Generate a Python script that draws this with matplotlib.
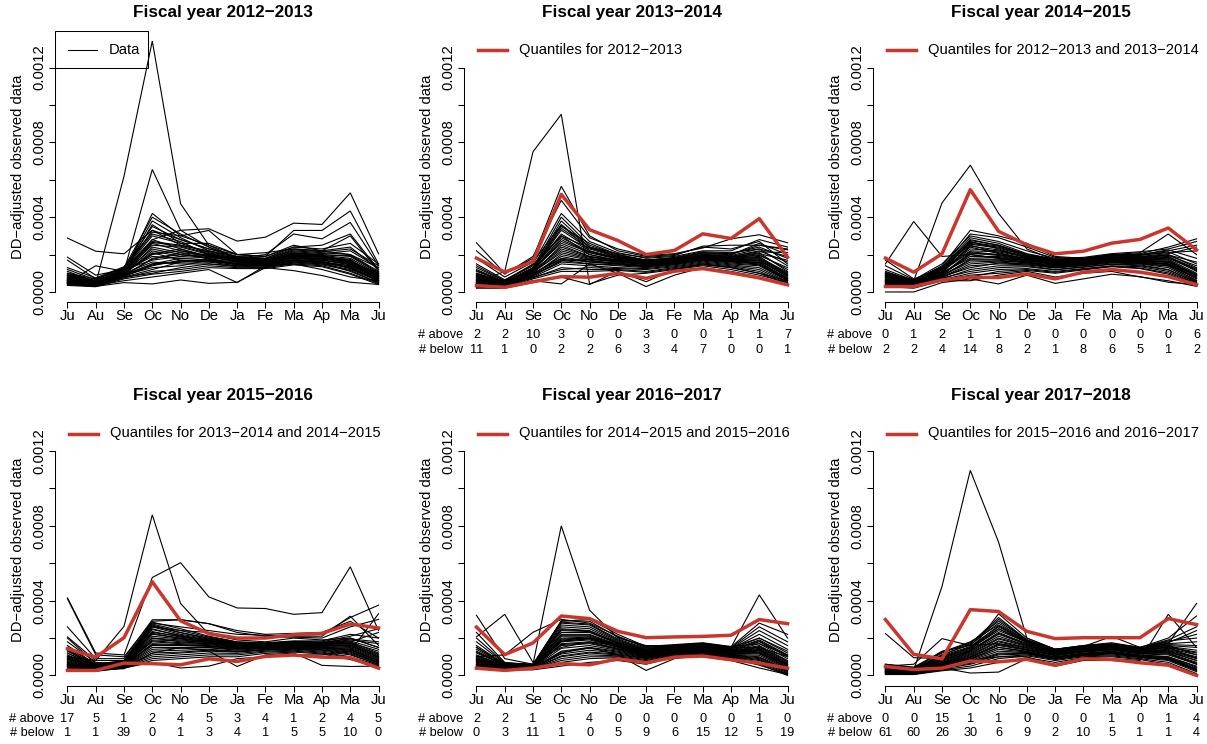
import matplotlib
matplotlib.use("Agg")
import matplotlib.pyplot as plt
from matplotlib.transforms import blended_transform_factory
from matplotlib.patches import Rectangle
from matplotlib.lines import Line2D

plt.rcParams['font.family'] = ['Liberation Sans', 'DejaVu Sans']

# ---------------------------------------------------------------- data
# monthly DD-adjusted values, in units of 1e-6, one row per series
months = ["Ju", "Au", "Se", "Oc", "No", "De", "Ja", "Fe", "Ma", "Ap", "Ma", "Ju"]
fiscal_years = ["2012\u22122013", "2013\u22122014", "2014\u22122015",
                "2015\u22122016", "2016\u22122017", "2017\u22122018"]
UNIT = 1e-6

fy2012 = [
    [60, 45, 619, 1342, 472, 250, 180, 160, 190, 170, 150, 90],
    [288, 218, 204, 330, 280, 230, 200, 210, 230, 220, 200, 130],
    [90, 60, 110, 655, 330, 240, 180, 170, 200, 190, 160, 100],
    [100, 60, 120, 280, 330, 338, 272, 293, 368, 361, 530, 204],
    [80, 55, 100, 420, 300, 329, 200, 190, 329, 329, 433, 150],
    [170, 70, 130, 400, 310, 240, 180, 200, 310, 284, 372, 140],
    [186, 90, 120, 380, 290, 220, 190, 180, 240, 250, 310, 120],
    [50, 140, 110, 360, 260, 260, 200, 190, 250, 220, 300, 110],
    [40, 30, 50, 43, 64, 46, 52, 130, 114, 88, 52, 40],
    [45, 35, 60, 80, 100, 120, 50, 140, 150, 120, 80, 60],
    [50, 40, 90, 150, 180, 170, 150, 140, 170, 160, 130, 70],
    [60, 45, 100, 200, 220, 190, 160, 150, 180, 170, 150, 80],
    [70, 50, 110, 250, 240, 200, 170, 160, 200, 190, 170, 90],
    [55, 35, 80, 120, 160, 160, 140, 130, 160, 150, 120, 60],
    [80, 55, 120, 300, 260, 210, 180, 170, 210, 200, 190, 100],
    [45, 30, 85, 180, 200, 180, 150, 150, 170, 160, 140, 70],
    [65, 50, 95, 220, 190, 200, 165, 155, 190, 180, 160, 85],
    [75, 60, 105, 280, 230, 190, 175, 165, 200, 195, 180, 95],
    [50, 40, 100, 160, 150, 150, 140, 145, 165, 155, 110, 50],
    [90, 50, 115, 330, 250, 220, 185, 175, 220, 210, 200, 110],
    [60, 40, 90, 130, 140, 170, 150, 140, 175, 165, 125, 65],
    [100, 70, 125, 350, 280, 230, 190, 180, 230, 220, 240, 120],
    [40, 30, 75, 110, 120, 140, 130, 130, 150, 140, 100, 45],
    [70, 45, 95, 240, 210, 175, 160, 150, 185, 175, 165, 80],
    [85, 55, 110, 190, 180, 185, 170, 160, 195, 185, 150, 90],
    [55, 45, 85, 140, 170, 165, 145, 140, 160, 150, 135, 55],
    [120, 65, 130, 310, 270, 200, 180, 170, 215, 205, 220, 130],
    [65, 40, 100, 210, 170, 160, 155, 150, 180, 170, 145, 75],
    [50, 35, 95, 260, 220, 195, 165, 160, 190, 185, 175, 60],
    [95, 60, 120, 170, 190, 205, 175, 165, 205, 195, 160, 100],
    [45, 38, 80, 100, 130, 150, 135, 135, 155, 145, 115, 50],
    [75, 50, 105, 230, 200, 185, 165, 155, 195, 190, 170, 85],
    [110, 55, 115, 270, 250, 215, 185, 175, 225, 215, 230, 140],
    [60, 42, 90, 150, 160, 175, 150, 145, 170, 160, 140, 70],
    [35, 28, 70, 95, 110, 130, 125, 125, 145, 135, 95, 40],
    [130, 75, 135, 320, 300, 250, 200, 190, 240, 230, 260, 150],
    [58, 38, 92, 175, 210, 195, 160, 150, 185, 178, 155, 72],
    [68, 48, 102, 205, 230, 185, 168, 158, 198, 188, 168, 88],
    [48, 33, 82, 145, 165, 172, 148, 142, 168, 158, 128, 58],
    [88, 58, 112, 265, 245, 205, 178, 168, 208, 198, 195, 105],
]

fy2013 = [
    [50, 110, 750, 950, 43, 90, 100, 120, 150, 130, 100, 60],
    [263, 100, 180, 565, 300, 220, 190, 200, 240, 230, 270, 150],
    [220, 95, 190, 490, 290, 230, 195, 205, 235, 284, 306, 263],
    [140, 60, 150, 420, 270, 210, 180, 190, 220, 220, 280, 240],
    [120, 55, 130, 400, 250, 200, 170, 180, 210, 200, 260, 200],
    [30, 25, 60, 43, 150, 100, 29, 90, 130, 110, 80, 40],
    [20, 20, 50, 80, 40, 110, 55, 120, 140, 120, 90, 50],
    [180, 80, 160, 360, 240, 205, 185, 195, 245, 250, 250, 225],
    [100, 50, 120, 380, 240, 190, 165, 175, 200, 195, 230, 140],
    [80, 45, 110, 360, 220, 180, 160, 170, 195, 185, 210, 110],
    [90, 50, 130, 300, 200, 170, 155, 165, 190, 180, 190, 90],
    [60, 40, 100, 250, 190, 160, 150, 160, 180, 175, 170, 80],
    [70, 45, 115, 280, 210, 175, 155, 165, 185, 180, 200, 120],
    [50, 35, 90, 200, 170, 150, 140, 155, 175, 165, 160, 70],
    [110, 55, 125, 330, 230, 185, 160, 170, 200, 190, 220, 160],
    [40, 30, 85, 170, 150, 140, 130, 145, 165, 150, 140, 60],
    [95, 50, 120, 260, 200, 165, 150, 160, 190, 180, 180, 100],
    [65, 40, 105, 220, 180, 160, 145, 155, 180, 170, 165, 85],
    [130, 60, 140, 350, 260, 200, 170, 180, 210, 205, 240, 180],
    [55, 35, 95, 190, 160, 150, 135, 150, 170, 160, 150, 65],
    [75, 45, 110, 240, 190, 170, 150, 160, 185, 175, 175, 95],
    [45, 30, 80, 150, 140, 130, 125, 140, 160, 145, 130, 55],
    [85, 50, 115, 270, 210, 180, 160, 170, 195, 185, 195, 130],
    [35, 28, 75, 130, 120, 120, 110, 130, 150, 135, 110, 45],
    [100, 55, 125, 310, 220, 175, 155, 165, 190, 185, 205, 170],
    [60, 40, 100, 180, 165, 155, 140, 150, 175, 165, 155, 75],
    [70, 42, 105, 210, 175, 165, 150, 160, 185, 170, 170, 90],
    [90, 48, 118, 290, 215, 185, 165, 175, 200, 190, 215, 210],
    [50, 32, 88, 160, 150, 145, 135, 150, 170, 155, 145, 62],
    [115, 52, 128, 340, 240, 195, 170, 180, 205, 200, 250, 230],
    [42, 30, 78, 120, 130, 125, 120, 135, 155, 140, 120, 50],
    [80, 46, 112, 230, 185, 170, 152, 162, 188, 178, 185, 105],
    [65, 38, 98, 175, 160, 150, 140, 152, 172, 162, 158, 72],
    [25, 22, 70, 110, 110, 115, 105, 125, 145, 130, 100, 42],
    [150, 65, 145, 300, 235, 190, 170, 185, 215, 210, 230, 190],
    [55, 38, 92, 165, 175, 160, 148, 158, 178, 168, 148, 68],
]

fy2014 = [
    [150, 377, 190, 200, 180, 170, 150, 160, 175, 165, 150, 90],
    [60, 60, 476, 678, 420, 230, 170, 160, 180, 170, 160, 90],
    [90, 60, 140, 330, 300, 260, 190, 180, 200, 210, 310, 200],
    [80, 55, 130, 310, 290, 240, 185, 175, 195, 205, 240, 284],
    [100, 65, 150, 300, 270, 220, 180, 185, 205, 215, 230, 270],
    [0, 0, 50, 70, 43, 90, 46, 70, 95, 82, 52, 40],
    [30, 20, 60, 60, 90, 110, 80, 100, 110, 80, 60, 30],
    [170, 70, 120, 280, 250, 200, 175, 180, 200, 200, 220, 250],
    [60, 40, 90, 200, 180, 160, 140, 150, 165, 160, 150, 80],
    [70, 45, 100, 250, 210, 175, 150, 155, 175, 170, 170, 90],
    [50, 35, 80, 150, 160, 150, 130, 145, 160, 155, 140, 60],
    [80, 50, 110, 270, 230, 185, 160, 165, 185, 180, 190, 110],
    [45, 30, 70, 120, 140, 140, 120, 135, 150, 145, 120, 50],
    [90, 55, 120, 230, 220, 190, 165, 170, 190, 185, 200, 130],
    [55, 38, 85, 170, 170, 155, 135, 150, 165, 160, 145, 70],
    [65, 42, 95, 210, 195, 170, 145, 155, 170, 165, 160, 85],
    [100, 58, 125, 260, 240, 195, 170, 175, 195, 195, 215, 150],
    [40, 30, 65, 100, 120, 125, 110, 125, 140, 135, 110, 45],
    [75, 48, 105, 180, 185, 165, 150, 158, 178, 172, 175, 100],
    [85, 52, 115, 240, 205, 180, 158, 162, 182, 178, 185, 120],
    [50, 35, 78, 140, 150, 145, 128, 140, 155, 150, 130, 55],
    [110, 60, 130, 290, 260, 205, 175, 178, 198, 200, 225, 180],
    [60, 40, 88, 160, 165, 158, 140, 148, 168, 162, 148, 75],
    [35, 28, 60, 90, 100, 115, 100, 118, 135, 125, 95, 38],
    [95, 55, 118, 220, 215, 185, 162, 168, 188, 182, 195, 140],
    [70, 45, 98, 190, 190, 168, 148, 156, 174, 168, 165, 95],
    [120, 62, 135, 275, 250, 200, 172, 176, 196, 198, 210, 220],
    [55, 36, 82, 130, 155, 150, 132, 142, 160, 152, 138, 62],
    [65, 44, 92, 205, 200, 172, 150, 158, 172, 166, 158, 88],
    [48, 32, 75, 110, 130, 135, 118, 132, 148, 140, 118, 52],
    [80, 50, 108, 245, 225, 182, 160, 164, 184, 176, 180, 115],
    [140, 66, 128, 265, 245, 198, 168, 172, 192, 190, 205, 240],
    [58, 39, 86, 175, 175, 160, 142, 150, 166, 158, 150, 72],
    [90, 54, 112, 215, 200, 178, 156, 162, 180, 174, 188, 125],
    [42, 30, 68, 80, 110, 120, 105, 122, 138, 128, 102, 44],
    [105, 58, 122, 255, 235, 192, 166, 170, 190, 188, 198, 160],
]

fy2015 = [
    [100, 80, 263, 859, 385, 220, 190, 180, 200, 190, 200, 150],
    [415, 120, 110, 524, 603, 420, 361, 358, 327, 336, 581, 240],
    [410, 110, 100, 290, 298, 277, 230, 210, 215, 220, 310, 376],
    [260, 90, 90, 298, 298, 277, 240, 220, 225, 230, 290, 200],
    [206, 80, 80, 280, 260, 240, 220, 215, 210, 210, 317, 160],
    [60, 30, 36, 120, 150, 130, 48, 110, 120, 54, 48, 50],
    [50, 25, 40, 70, 40, 50, 90, 100, 110, 110, 130, 330],
    [180, 70, 60, 260, 240, 230, 200, 205, 205, 200, 260, 300],
    [80, 40, 60, 200, 180, 170, 150, 155, 160, 155, 150, 90],
    [120, 50, 70, 250, 210, 190, 165, 165, 175, 170, 180, 120],
    [60, 30, 50, 150, 150, 150, 140, 145, 150, 145, 130, 70],
    [140, 55, 75, 270, 230, 200, 175, 170, 180, 175, 200, 150],
    [50, 28, 45, 110, 120, 130, 125, 135, 140, 130, 110, 60],
    [100, 45, 65, 220, 200, 180, 160, 160, 170, 165, 170, 110],
    [70, 35, 55, 170, 165, 160, 145, 150, 155, 150, 140, 80],
    [160, 60, 80, 285, 250, 210, 180, 175, 185, 185, 220, 200],
    [90, 42, 62, 190, 185, 175, 155, 158, 165, 160, 160, 100],
    [40, 25, 42, 90, 100, 110, 110, 125, 130, 120, 95, 50],
    [110, 48, 68, 235, 205, 185, 162, 162, 172, 168, 175, 130],
    [75, 38, 58, 180, 170, 165, 148, 152, 158, 152, 145, 85],
    [130, 52, 72, 260, 220, 195, 170, 168, 178, 172, 190, 170],
    [55, 30, 48, 130, 135, 140, 130, 140, 145, 138, 120, 65],
    [95, 44, 64, 210, 195, 178, 158, 160, 168, 162, 165, 105],
    [65, 34, 52, 160, 160, 155, 142, 148, 152, 148, 135, 75],
    [150, 58, 78, 275, 240, 205, 178, 172, 182, 180, 210, 250],
    [45, 26, 44, 100, 110, 120, 118, 130, 135, 125, 100, 55],
    [85, 40, 60, 185, 175, 170, 152, 155, 162, 158, 155, 95],
    [120, 50, 70, 245, 215, 188, 166, 166, 176, 172, 185, 140],
    [35, 22, 40, 80, 90, 100, 100, 118, 125, 115, 85, 45],
    [105, 46, 66, 225, 198, 182, 160, 162, 170, 166, 172, 115],
    [70, 36, 54, 165, 162, 158, 145, 150, 156, 150, 138, 78],
    [135, 54, 74, 265, 228, 198, 172, 170, 180, 176, 195, 180],
    [60, 32, 50, 140, 145, 148, 135, 145, 148, 142, 125, 68],
    [90, 43, 63, 200, 190, 176, 156, 158, 166, 160, 162, 98],
    [200, 65, 70, 230, 210, 190, 170, 168, 175, 170, 180, 230],
    [48, 28, 46, 120, 125, 135, 128, 138, 142, 135, 115, 58],
]

fy2016 = [
    [80, 60, 60, 800, 349, 200, 160, 160, 170, 150, 150, 100],
    [206, 327, 70, 150, 180, 160, 130, 150, 160, 140, 120, 60],
    [100, 110, 231, 300, 280, 210, 150, 160, 170, 150, 200, 130],
    [322, 90, 60, 290, 300, 220, 155, 165, 175, 155, 170, 110],
    [150, 60, 50, 180, 200, 170, 140, 160, 170, 150, 431, 200],
    [40, 30, 40, 120, 150, 110, 27, 90, 110, 90, 60, 0],
    [230, 70, 55, 293, 290, 205, 150, 162, 172, 152, 280, 220],
    [60, 30, 30, 50, 70, 80, 60, 100, 100, 80, 40, 5],
    [80, 45, 45, 180, 190, 150, 110, 130, 140, 120, 130, 50],
    [120, 55, 50, 230, 230, 170, 125, 140, 150, 130, 170, 90],
    [60, 40, 40, 130, 150, 130, 100, 120, 130, 110, 100, 30],
    [150, 60, 55, 260, 250, 180, 135, 150, 160, 140, 200, 120],
    [50, 35, 38, 100, 120, 110, 90, 115, 120, 100, 80, 20],
    [100, 50, 48, 210, 210, 160, 120, 135, 145, 125, 150, 70],
    [70, 42, 42, 160, 170, 140, 105, 125, 135, 115, 115, 40],
    [180, 65, 58, 280, 270, 190, 140, 155, 165, 145, 240, 160],
    [90, 48, 46, 195, 200, 155, 115, 132, 142, 122, 140, 60],
    [40, 32, 35, 80, 100, 100, 80, 108, 112, 95, 65, 10],
    [110, 52, 50, 220, 220, 165, 122, 138, 148, 128, 160, 80],
    [75, 44, 44, 170, 180, 145, 108, 128, 138, 118, 125, 45],
    [140, 58, 54, 250, 240, 175, 132, 146, 156, 136, 190, 110],
    [55, 38, 40, 115, 135, 120, 95, 118, 125, 105, 90, 25],
    [95, 49, 47, 200, 205, 158, 118, 134, 144, 124, 145, 65],
    [65, 41, 41, 145, 160, 135, 102, 122, 132, 112, 108, 35],
    [160, 62, 56, 270, 260, 185, 138, 152, 162, 142, 220, 140],
    [45, 34, 36, 90, 110, 105, 85, 112, 116, 98, 72, 15],
    [85, 46, 45, 185, 195, 152, 112, 130, 140, 120, 135, 55],
    [125, 56, 52, 240, 235, 172, 128, 142, 152, 132, 180, 100],
    [35, 30, 33, 70, 90, 95, 75, 105, 108, 92, 55, 8],
    [105, 51, 49, 215, 215, 162, 120, 136, 146, 126, 155, 75],
    [72, 43, 43, 165, 175, 142, 106, 126, 136, 116, 120, 42],
    [200, 68, 60, 285, 275, 195, 145, 158, 168, 148, 260, 180],
    [58, 39, 39, 125, 145, 125, 98, 120, 128, 108, 95, 28],
    [88, 47, 46, 190, 198, 154, 114, 132, 142, 122, 138, 58],
    [130, 57, 53, 245, 238, 174, 130, 144, 154, 134, 185, 105],
    [50, 36, 37, 105, 125, 115, 92, 116, 122, 102, 85, 22],
]

fy2017 = [
    [40, 30, 476, 1097, 713, 200, 140, 150, 160, 140, 130, 80],
    [224, 95, 90, 150, 250, 180, 130, 150, 160, 140, 150, 90],
    [50, 60, 197, 160, 170, 150, 120, 140, 150, 130, 120, 60],
    [30, 20, 60, 130, 330, 200, 140, 160, 175, 150, 160, 110],
    [40, 35, 110, 170, 310, 190, 135, 155, 209, 150, 170, 385],
    [20, 15, 40, 13, 18, 90, 60, 90, 90, 80, 327, 150],
    [10, 10, 30, 80, 100, 100, 50, 80, 80, 70, 60, 0],
    [60, 40, 130, 160, 300, 190, 140, 160, 170, 150, 200, 318],
    [20, 15, 50, 90, 150, 130, 100, 120, 130, 110, 100, 50],
    [30, 22, 70, 120, 200, 160, 120, 140, 150, 130, 140, 100],
    [10, 8, 35, 60, 100, 110, 85, 105, 110, 95, 80, 20],
    [40, 28, 90, 140, 250, 175, 130, 150, 160, 140, 160, 150],
    [15, 12, 45, 75, 120, 120, 90, 110, 120, 100, 90, 30],
    [35, 25, 80, 130, 220, 165, 125, 145, 155, 135, 150, 120],
    [25, 18, 60, 100, 170, 140, 110, 130, 140, 120, 120, 70],
    [50, 35, 110, 165, 280, 185, 138, 155, 165, 148, 180, 220],
    [22, 16, 55, 95, 160, 135, 105, 125, 135, 115, 110, 60],
    [5, 5, 25, 40, 70, 95, 70, 95, 100, 85, 60, 5],
    [45, 30, 100, 150, 260, 180, 132, 152, 162, 142, 170, 180],
    [28, 20, 65, 110, 185, 150, 115, 135, 145, 125, 130, 90],
    [12, 10, 40, 65, 110, 115, 88, 108, 115, 98, 85, 25],
    [38, 26, 85, 135, 230, 170, 128, 148, 158, 138, 155, 135],
    [18, 14, 50, 85, 140, 125, 95, 115, 125, 105, 95, 40],
    [55, 40, 120, 175, 290, 190, 140, 158, 168, 150, 190, 260],
    [32, 24, 75, 125, 210, 160, 122, 142, 152, 132, 145, 110],
    [8, 6, 30, 50, 90, 105, 80, 100, 105, 90, 70, 10],
    [42, 29, 95, 145, 240, 178, 130, 150, 160, 140, 165, 160],
    [24, 17, 58, 98, 165, 138, 108, 128, 138, 118, 115, 65],
    [14, 11, 42, 70, 115, 118, 90, 110, 118, 100, 88, 28],
    [36, 26, 82, 132, 225, 168, 126, 146, 156, 136, 152, 125],
    [26, 19, 62, 105, 180, 145, 112, 132, 142, 122, 125, 80],
    [60, 45, 125, 180, 270, 188, 136, 156, 166, 146, 185, 200],
    [16, 13, 48, 80, 130, 122, 92, 112, 122, 102, 92, 35],
    [48, 33, 105, 155, 265, 182, 134, 154, 164, 144, 175, 240],
    [30, 21, 68, 115, 195, 155, 118, 138, 148, 128, 135, 95],
    [20, 15, 52, 88, 150, 128, 98, 118, 128, 108, 100, 45],
]

# upper / lower quantile bands built from the preceding year(s)
upper_q = [
    None,
    [181, 106, 163, 522, 333, 275, 200, 222, 311, 286, 392, 186],
    [181, 106, 204, 547, 324, 252, 204, 218, 261, 281, 342, 225],
    [143, 98, 202, 501, 292, 224, 200, 200, 218, 225, 275, 254],
    [259, 111, 174, 318, 304, 236, 202, 206, 209, 215, 299, 277],
    [299, 113, 89, 352, 342, 236, 197, 202, 202, 202, 304, 272],
]
lower_q = [
    None,
    [34, 25, 55, 82, 79, 100, 73, 111, 125, 102, 75, 38],
    [29, 29, 64, 79, 77, 97, 70, 106, 120, 106, 82, 39],
    [27, 27, 66, 63, 57, 89, 75, 102, 109, 98, 95, 39],
    [39, 27, 39, 63, 57, 89, 68, 98, 104, 84, 66, 39],
    [48, 32, 39, 77, 73, 86, 54, 89, 86, 68, 55, 0],
]

n_above = [
    None,
    [2, 2, 10, 3, 0, 0, 3, 0, 0, 1, 1, 7],
    [0, 1, 2, 1, 1, 0, 0, 0, 0, 0, 0, 6],
    [17, 5, 1, 2, 4, 5, 3, 4, 1, 2, 4, 5],
    [2, 2, 1, 5, 4, 0, 0, 0, 0, 0, 1, 0],
    [0, 0, 15, 1, 1, 0, 0, 0, 1, 0, 1, 4],
]
n_below = [
    None,
    [11, 1, 0, 2, 2, 6, 3, 4, 7, 0, 0, 1],
    [2, 2, 4, 14, 8, 2, 1, 8, 6, 5, 1, 2],
    [1, 1, 39, 0, 1, 3, 4, 1, 5, 5, 10, 0],
    [0, 3, 11, 1, 0, 5, 9, 6, 15, 12, 5, 19],
    [61, 60, 26, 30, 6, 9, 2, 10, 5, 1, 1, 4],
]

legend_labels = [
    "Data",
    "Quantiles for 2012\u22122013",
    "Quantiles for 2012\u22122013 and 2013\u22122014",
    "Quantiles for 2013\u22122014 and 2014\u22122015",
    "Quantiles for 2014\u22122015 and 2015\u22122016",
    "Quantiles for 2015\u22122016 and 2016\u22122017",
]

all_years = [fy2012, fy2013, fy2014, fy2015, fy2016, fy2017]

# ---------------------------------------------------------------- layout
W, H = 1207, 744
DPI = 100
RED = "#C9372C"
FS = 10.6
FS_COUNT = 9.2
col_left = [55, 464, 873]
row_top = [31, 414.5]
pw, ph = 336, 271

x = list(range(1, 13))
y_max = max(v for yr in all_years for s in yr for v in s) * UNIT
ylo, yhi = -0.04 * y_max, 1.04 * y_max
yticks = [k * 0.0002 for k in range(7)]
ytick_labels = ["0.0000", "", "0.0004", "", "0.0008", "", "0.0012"]

fig = plt.figure(figsize=(W / DPI, H / DPI), dpi=DPI)
fig.patch.set_facecolor("white")

for i in range(6):
    r, c = divmod(i, 3)
    left, top = col_left[c], row_top[r]
    ax = fig.add_axes([left / W, 1 - (top + ph) / H, pw / W, ph / H])
    ax.set_xlim(1 - 0.44, 12 + 0.44)
    ax.set_ylim(ylo, yhi)
    ax.patch.set_alpha(0)

    for s in all_years[i]:
        ax.plot(x, [v * UNIT for v in s], color="black", lw=0.8,
                solid_joinstyle="miter")
    if upper_q[i] is not None:
        ax.plot(x, [v * UNIT for v in upper_q[i]], color=RED, lw=2.5, zorder=5)
        ax.plot(x, [v * UNIT for v in lower_q[i]], color=RED, lw=2.5, zorder=5)

    for side in ("top", "right"):
        ax.spines[side].set_visible(False)
    ax.spines["left"].set_bounds(0, 0.0012)
    ax.spines["bottom"].set_bounds(1, 12)
    for side in ("left", "bottom"):
        ax.spines[side].set_linewidth(0.75)

    ax.set_xticks(x)
    ax.set_xticklabels(months)
    ax.set_yticks(yticks)
    ax.set_yticklabels(ytick_labels, rotation=90, va="center")
    ax.tick_params(axis="both", direction="out", length=4.2, width=0.75,
                   labelsize=FS, colors="black")
    ax.tick_params(axis="x", pad=1.0)
    ax.tick_params(axis="y", pad=2.2)

    ax.text(0.5, 1 + 19 / ph, f"Fiscal year {fiscal_years[i]}",
            transform=ax.transAxes, ha="center", va="center",
            fontsize=12.3, fontweight="bold")
    ax.text(-37 / pw, 0.5, "DD\u2212adjusted observed data", rotation=90,
            transform=ax.transAxes, ha="center", va="center", fontsize=FS)

    # legend
    ly = 1 - 19 / ph
    if i == 0:
        ax.add_patch(Rectangle((0, 1 - 37 / ph), 93 / pw, 37 / ph,
                               transform=ax.transAxes, fill=False,
                               edgecolor="black", lw=0.75, clip_on=False,
                               zorder=6))
        ax.add_line(Line2D([13 / pw, 42 / pw], [ly, ly], color="black", lw=0.75,
                           transform=ax.transAxes, clip_on=False))
        ax.text(54 / pw, ly, legend_labels[i], transform=ax.transAxes,
                ha="left", va="center", fontsize=FS)
    else:
        ax.add_line(Line2D([14 / pw, 43 / pw], [ly, ly], color=RED, lw=2.5,
                           transform=ax.transAxes, clip_on=False))
        ax.text(55 / pw, ly, legend_labels[i], transform=ax.transAxes,
                ha="left", va="center", fontsize=FS)

        # exceedance counts under the month axis
        tr = blended_transform_factory(ax.transData, ax.transAxes)
        ya, yb = -33 / ph, -48 / ph
        ax.text(-1 / pw, ya, "# above", transform=ax.transAxes,
                ha="right", va="center", fontsize=FS_COUNT)
        ax.text(-1 / pw, yb, "# below", transform=ax.transAxes,
                ha="right", va="center", fontsize=FS_COUNT)
        for xi, a, b in zip(x, n_above[i], n_below[i]):
            ax.text(xi, ya, str(a), transform=tr, ha="center", va="center",
                    fontsize=FS_COUNT)
            ax.text(xi, yb, str(b), transform=tr, ha="center", va="center",
                    fontsize=FS_COUNT)

fig.savefig("out.png", dpi=DPI, facecolor="white")
